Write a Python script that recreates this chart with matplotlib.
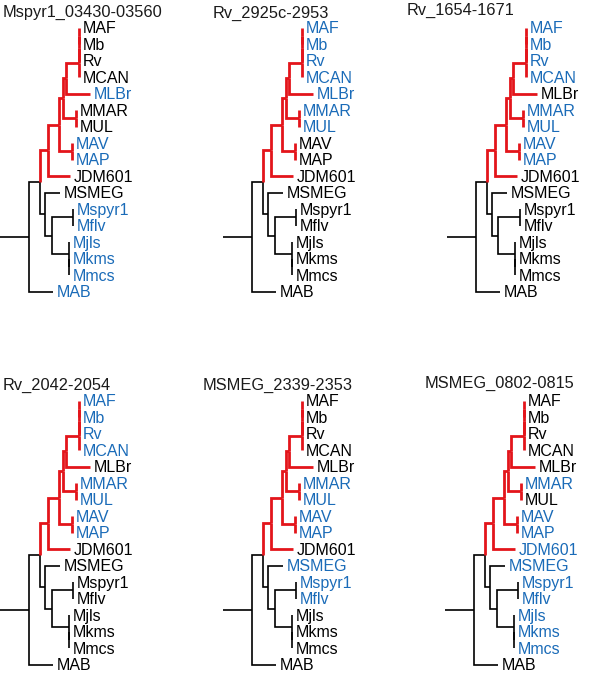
import matplotlib
matplotlib.use("Agg")
import matplotlib.pyplot as plt

# taxa, top to bottom
taxa = ['MAF', 'Mb', 'Rv', 'MCAN', 'MLBr', 'MMAR', 'MUL', 'MAV', 'MAP', 'JDM601',
        'MSMEG', 'Mspyr1', 'Mflv', 'Mjls', 'Mkms', 'Mmcs', 'MAB']

# internal nodes: parent and depth (distance from left end of root stub)
clade_ids = ['root', 'ingroup', 'slow', 'F', 'D', 'E', 'tb', 'tb2', 'tb1',
             'mmar_mul', 'mav_map', 'fast', 'H', 'spyr_flv', 'jls', 'kms_mcs']
clade_parent = [None, 'root', 'ingroup', 'slow', 'F', 'D', 'E', 'tb', 'tb2',
                'D', 'F', 'ingroup', 'fast', 'H', 'H', 'jls']
clade_depth = [29, 40, 48, 59, 63, 66, 79, 79, 79, 76, 72, 45, 51.5, 73, 68.5, 68.5]

# leaves: parent and tip depth
taxon_parent = ['tb1', 'tb1', 'tb2', 'tb', 'E', 'mmar_mul', 'mmar_mul', 'mav_map', 'mav_map',
                'slow', 'fast', 'spyr_flv', 'spyr_flv', 'jls', 'kms_mcs', 'kms_mcs', 'root']
taxon_depth = [79, 79, 79, 79, 90, 76, 76, 72, 72, 70, 60, 73, 73, 68.5, 68.5, 68.5, 53]

red_clade = 'slow'

titles = ['Mspyr1_03430-03560', 'Rv_2925c-2953', 'Rv_1654-1671',
          'Rv_2042-2054', 'MSMEG_2339-2353', 'MSMEG_0802-0815']

blue_taxa = [
    ['MLBr', 'MAV', 'MAP', 'Mspyr1', 'Mflv', 'Mjls', 'Mkms', 'Mmcs', 'MAB'],
    ['MAF', 'Mb', 'Rv', 'MCAN', 'MLBr', 'MMAR', 'MUL'],
    ['MAF', 'Mb', 'Rv', 'MCAN', 'MMAR', 'MUL', 'MAV', 'MAP'],
    ['MAF', 'Mb', 'Rv', 'MCAN', 'MMAR', 'MUL', 'MAV', 'MAP'],
    ['MMAR', 'MUL', 'MAV', 'MAP', 'MSMEG', 'Mspyr1', 'Mflv'],
    ['MMAR', 'MAV', 'MAP', 'JDM601', 'MSMEG', 'Mspyr1', 'Mflv', 'Mjls', 'Mkms', 'Mmcs'],
]

RED = '#e3151b'
BLUE = '#1a6bb8'
FONT = 'Liberation Sans'

# panel placement (pixels)
panel_x = [0, 223, 446.5, 0, 223, 445]
panel_y = [0, 0, 0, 373, 373, 373]
title_pos = [(3, 12), (213, 13), (407, 10), (3, 385), (203, 385), (425, 383)]
leaf_top = 27.5
leaf_step = 16.5

# build tree
parent = dict(zip(clade_ids, clade_parent))
parent.update(dict(zip(taxa, taxon_parent)))
depth = dict(zip(clade_ids, clade_depth))
depth.update(dict(zip(taxa, taxon_depth)))
children = {c: [] for c in clade_ids}
for n, p in parent.items():
    if p is not None:
        children[p].append(n)

ypos = {t: leaf_top + i * leaf_step for i, t in enumerate(taxa)}


def node_y(n):
    if n not in ypos:
        ys = [node_y(c) for c in children[n]]
        ypos[n] = (min(ys) + max(ys)) / 2
    return ypos[n]


node_y('root')


def in_red(n):
    while n is not None:
        if n == red_clade:
            return True
        n = parent[n]
    return False


fig = plt.figure(figsize=(6.0, 6.73), dpi=100)
ax = fig.add_axes([0, 0, 1, 1])
ax.set_xlim(0, 600)
ax.set_ylim(673, 0)
ax.axis('off')

for k in range(6):
    ox, oy = panel_x[k], panel_y[k]
    # root stub
    ax.plot([ox, ox + depth['root']], [oy + ypos['root']] * 2, color='black',
            lw=1.2, solid_capstyle='butt')
    for red in (False, True):
        for n, p in parent.items():
            if p is None or in_red(n) != red:
                continue
            xs = [ox + depth[p], ox + depth[p], ox + depth[n]]
            ys = [oy + ypos[p], oy + ypos[n], oy + ypos[n]]
            ax.plot(xs, ys, color=RED if red else 'black', lw=2.0 if red else 1.2,
                    solid_capstyle='butt', solid_joinstyle='miter')
    for t in taxa:
        ax.text(ox + depth[t] + 4, oy + ypos[t] + 5.8, t, fontsize=11.5, family=FONT,
                color=BLUE if t in blue_taxa[k] else 'black', ha='left', va='baseline')
    tx, ty = title_pos[k]
    ax.text(tx, ty, titles[k], fontsize=11.8, family=FONT, color='#1a1a1a',
            ha='left', va='center')

fig.savefig('out.png', dpi=100)
